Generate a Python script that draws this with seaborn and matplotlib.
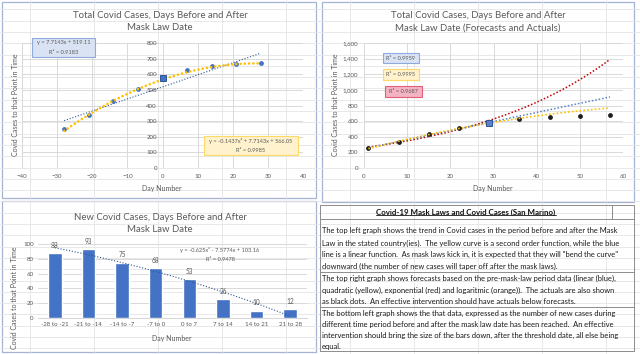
import numpy as np
import matplotlib
matplotlib.use("Agg")
import matplotlib.pyplot as plt
import seaborn as sns
from matplotlib.ticker import MultipleLocator, FuncFormatter
from matplotlib.patches import Rectangle

# ---------------- data ----------------
day_number = [-28, -21, -14, -7, 0, 7, 14, 21, 28]
total_cases = [250, 338, 431, 506, 574, 627, 653, 663, 675]
forecast_day = [1, 8, 15, 22, 29, 36, 43, 50, 57]
mask_index = 4
lin_coef = [7.7143, 519.11]
quad_coef = [-0.1437, 7.7143, 566.05]
lin_r2 = "0.9183"
quad_r2 = "0.9985"
fc_r2_linear = "0.9959"
fc_r2_quadratic = "0.9995"
fc_r2_exponential = "0.9687"
periods = ["-28 to -21", "-21 to -14", "-14 to -7", "-7 to 0",
           "0 to 7", "7 to 14", "14 to 21", "21 to 28"]
new_cases = [88, 93, 75, 68, 53, 26, 10, 12]
bar_trend_coef = [-0.625, -7.5774, 103.16]
bar_r2 = "0.9478"

title_tl = ["Total Covid Cases, Days Before and After", "Mask Law Date"]
title_tr = ["Total Covid Cases, Days Before and After", "Mask Law Date (Forecasts and Actuals)"]
title_bl = ["New Covid Cases, Days Before and After", "Mask Law Date"]
ylab = "Covid Cases to that Point in Time"
xlab = "Day Number"
table_title = "Covid-19 Mask Laws and Covid Cases (San Marino)"
para1 = ["The top left graph shows the trend in Covid cases in the period before and after the Mask",
         "Law in the stated country(ies).  The yellow curve is a second order function, while the blue",
         "line is a linear function.  As mask laws kick in, it is expected that they will \"bend the curve\"",
         "downward (the number of new cases will taper off after the mask laws)."]
para2 = ["The top right graph shows forecasts based on the pre-mask-law period data (linear (blue),",
         "quadratic (yellow), exponential (red) and logaritmic (orange)).  The actuals are also shown",
         "as black dots.  An effective intervention should have actuals below forecasts."]
para3 = ["The bottom left graph shows the that data, expressed as the number of new cases during",
         "different time period before and after the mask law date has been reached.  An effective",
         "intervention should bring the size of the bars down, after the threshold date, all else being",
         "equal."]

# ---------------- style ----------------
sns.set_style("white")
plt.rcParams['font.family'] = ['Lato', 'DejaVu Sans']
BLUE = "#4472c4"
YELLOW = "#ffc000"
RED = "#c00000"
TXT = "#595959"
GRID = "#d9d9d9"
BORDER = "#a3b3d3"

W, H = 640, 354
fig = plt.figure(figsize=(6.4, 3.54), dpi=100)


def rect(x0, y0, x1, y1):
    return [x0 / W, 1 - y1 / H, (x1 - x0) / W, (y1 - y0) / H]


# background spreadsheet grid + panels
bg = fig.add_axes([0, 0, 1, 1], zorder=0)
bg.set_xlim(0, W); bg.set_ylim(H, 0); bg.axis('off')
for yy in np.arange(-2, H, 11.3):
    bg.axhline(yy, color="#e4e4e4", lw=0.6)
for xx in np.arange(30, W, 64):
    bg.axvline(xx, color="#e4e4e4", lw=0.6)
for (x0, y0, x1, y1) in [(2, 2, 316, 198), (322, 2, 634, 202), (2, 201, 316, 352)]:
    bg.add_patch(Rectangle((x0, y0), x1 - x0, y1 - y0, fc="white", ec=BORDER, lw=0.9))
bg.add_patch(Rectangle((320, 205), 314, 147, fc="white", ec="none"))

TICK = 4.4

# ---------------- top left ----------------
ax1 = fig.add_axes(rect(22, 43, 303, 168), zorder=2)
ax1.set_facecolor("none")
xs = np.linspace(day_number[0], day_number[-1], 200)
ax1.plot(xs, np.polyval(lin_coef, xs), color="#2f5597", lw=0.8, ls=(0, (1, 1.6)), zorder=2)
sns.scatterplot(x=day_number, y=total_cases, ax=ax1, color=BLUE, s=12, linewidth=0, zorder=3)
ax1.plot(xs, np.polyval(quad_coef, xs), color=YELLOW, lw=1.9, ls=(0, (0.01, 1.6)),
         dash_capstyle="round", zorder=4)
ax1.plot([day_number[mask_index]], [total_cases[mask_index]], marker="s", ms=4.6,
         color=BLUE, mec="#2f5597", mew=0.7, zorder=5)
ax1.set_xlim(-40, 40); ax1.set_ylim(0, 800)
ax1.xaxis.set_major_locator(MultipleLocator(10))
ax1.yaxis.set_major_locator(MultipleLocator(100))
ax1.grid(True, color=GRID, lw=0.7)
for s in ax1.spines.values():
    s.set_visible(False)
ax1.spines['left'].set_position(('data', 0))
ax1.tick_params(length=0, labelsize=TICK, colors=TXT, pad=4)
ax1.set_xlabel(""); ax1.set_ylabel("")

# ---------------- top right ----------------
ax2 = fig.add_axes(rect(364, 43, 623, 168), zorder=2)
ax2.set_facecolor("none")
fx = np.array(forecast_day[:mask_index + 1], float)
fy = np.array(total_cases[:mask_index + 1], float)
xs2 = np.linspace(forecast_day[0], forecast_day[-1], 200)
p_lin = np.polyfit(fx, fy, 1)
p_quad = np.polyfit(fx, fy, 2)
p_exp = np.polyfit(fx, np.log(fy), 1)
ax2.plot(xs2, np.exp(np.polyval(p_exp, xs2)), color=RED, lw=1.1, ls=(0, (1, 1.3)), zorder=2)
ax2.plot(xs2, np.polyval(p_lin, xs2), color="#5b82c9", lw=1.1, ls=(0, (1, 1.3)), zorder=2)
sns.scatterplot(x=forecast_day, y=total_cases, ax=ax2, color="#1e1e1e", s=12, linewidth=0, zorder=3)
ax2.plot(xs2, np.polyval(p_quad, xs2), color=YELLOW, lw=1.2, ls=(0, (1, 1.3)), zorder=4)
ax2.plot([forecast_day[mask_index]], [total_cases[mask_index]], marker="s", ms=4.6,
         color="#5b82c9", mec="#2f5597", mew=0.7, zorder=5)
ax2.set_xlim(0, 60); ax2.set_ylim(0, 1600)
ax2.xaxis.set_major_locator(MultipleLocator(10))
ax2.yaxis.set_major_locator(MultipleLocator(200))
ax2.yaxis.set_major_formatter(FuncFormatter(lambda v, p: f"{int(v):,}"))
ax2.grid(True, color=GRID, lw=0.7)
for s in ax2.spines.values():
    s.set_visible(False)
ax2.tick_params(length=0, labelsize=TICK, colors=TXT, pad=4)
ax2.set_xlabel(""); ax2.set_ylabel("")

# ---------------- bottom left ----------------
ax3 = fig.add_axes(rect(38, 244, 307, 318), zorder=2)
ax3.set_facecolor("none")
sns.barplot(x=periods, y=new_cases, ax=ax3, color=BLUE, saturation=1, width=0.4, zorder=3)
ax3.bar_label(ax3.containers[0], fontsize=TICK + 0.3, color=TXT, padding=3)
xb = np.linspace(1, len(new_cases), 100)
ax3.plot(xb - 1, np.polyval(bar_trend_coef, xb), color="#2f5597", lw=0.8,
         ls=(0, (1, 1.6)), zorder=4)
ax3.set_ylim(0, 100); ax3.set_xlim(-0.5, len(periods) - 0.5)
ax3.yaxis.set_major_locator(MultipleLocator(20))
ax3.grid(True, axis="y", color=GRID, lw=0.7, zorder=0)
for s in ax3.spines.values():
    s.set_visible(False)
ax3.spines['bottom'].set_visible(True)
ax3.spines['bottom'].set_color(GRID)
ax3.tick_params(length=0, labelsize=TICK, colors=TXT, pad=3)
ax3.set_xlabel(""); ax3.set_ylabel("")

# ---------------- overlay texts ----------------
ov = fig.add_axes([0, 0, 1, 1], zorder=10)
ov.set_facecolor("none")
ov.set_xlim(0, W); ov.set_ylim(H, 0); ov.axis('off')

TSZ = 6.9
LSZ = 5.0


def t(x, y, s, **kw):
    kw.setdefault("ha", "center"); kw.setdefault("va", "center")
    return ov.text(x, y, s, **kw)


# titles
t(160, 15, title_tl[0], fontsize=TSZ, color=TXT)
t(160, 28, title_tl[1], fontsize=TSZ, color=TXT)
t(478, 15, title_tr[0], fontsize=TSZ, color=TXT)
t(478, 28, title_tr[1], fontsize=TSZ, color=TXT)
t(160, 218, title_bl[0], fontsize=TSZ, color=TXT)
t(160, 230, title_bl[1], fontsize=TSZ, color=TXT)
# axis labels
t(16, 105, ylab, fontsize=LSZ, color=TXT, rotation=90)
t(162, 188, xlab, fontsize=LSZ, color=TXT)
t(335, 105, ylab, fontsize=LSZ, color=TXT, rotation=90)
t(493, 188, xlab, fontsize=LSZ, color=TXT)
t(15, 298, ylab, fontsize=LSZ, color=TXT, rotation=90)
t(172, 339, xlab, fontsize=LSZ, color=TXT)


def box(x0, y0, x1, y1, fc, ec, lines, size=4.1):
    ov.add_patch(Rectangle((x0, y0), x1 - x0, y1 - y0, fc=fc, ec=ec, lw=0.8))
    n = len(lines)
    step = (y1 - y0) / n
    for i, ln in enumerate(lines):
        t((x0 + x1) / 2, y0 + step * (i + 0.5), ln, fontsize=size, color=TXT)


box(32, 38, 95, 57, "#dae3f3", "#8faadc",
    [f"y = {lin_coef[0]}x + {lin_coef[1]}", f"R² = {lin_r2}"])
box(204, 136, 298, 155, "#fff2cc", "#ffd966",
    [f"y = {quad_coef[0]}x² + {quad_coef[1]}x + {quad_coef[2]}", f"R² = {quad_r2}"])
box(383, 53, 419, 63, "#dae3f3", "#8faadc", [f"R² = {fc_r2_linear}"])
box(383, 69, 419, 80, "#fff2cc", "#ffd966", [f"R² = {fc_r2_quadratic}"])
box(385, 86, 422, 97, "#f4b3c2", "#e0607a", [f"R² = {fc_r2_exponential}"])
t(220, 250, f"y = {bar_trend_coef[0]}x² - {abs(bar_trend_coef[1])}x + {bar_trend_coef[2]}",
  fontsize=4.1, color=TXT)
t(220, 259.5, f"R² = {bar_r2}", fontsize=4.1, color=TXT)

# ---------------- table (bottom right) ----------------
LC = "#8c8c8c"
ov.plot([320, 634], [205, 205], color=LC, lw=0.7)
ov.plot([320, 634], [219, 219], color=LC, lw=0.7)
ov.plot([612, 612], [205, 219], color=LC, lw=0.7)
ov.plot([320, 634], [272, 272], color=LC, lw=0.7)
ov.plot([320, 634], [307, 307], color=LC, lw=0.7)
ov.plot([320, 634], [351, 351], color=LC, lw=0.7)
ov.plot([320, 320], [205, 351], color=LC, lw=0.7)
ov.plot([634, 634], [205, 351], color=LC, lw=0.7)

tt = t(466, 212, table_title, fontsize=5.7, color="#111111", fontweight="bold")
PSZ = 5.45
ys1 = [231, 243, 254, 266]
ys2 = [278, 290, 301]
ys3 = [313, 324, 335, 346]
for ys, para in [(ys1, para1), (ys2, para2), (ys3, para3)]:
    for y, ln in zip(ys, para):
        ov.text(321.5, y, ln, fontsize=PSZ, color="#1a1a1a", ha="left", va="center")

fig.canvas.draw()
bb = tt.get_window_extent()
inv = ov.transData.inverted()
(ux0, uy0), (ux1, uy1) = inv.transform([[bb.x0, bb.y0], [bb.x1, bb.y1]])
ov.plot([ux0, ux1], [uy0 - 0.5, uy0 - 0.5], color="#111111", lw=0.6)

fig.savefig("out.png", dpi=100)
